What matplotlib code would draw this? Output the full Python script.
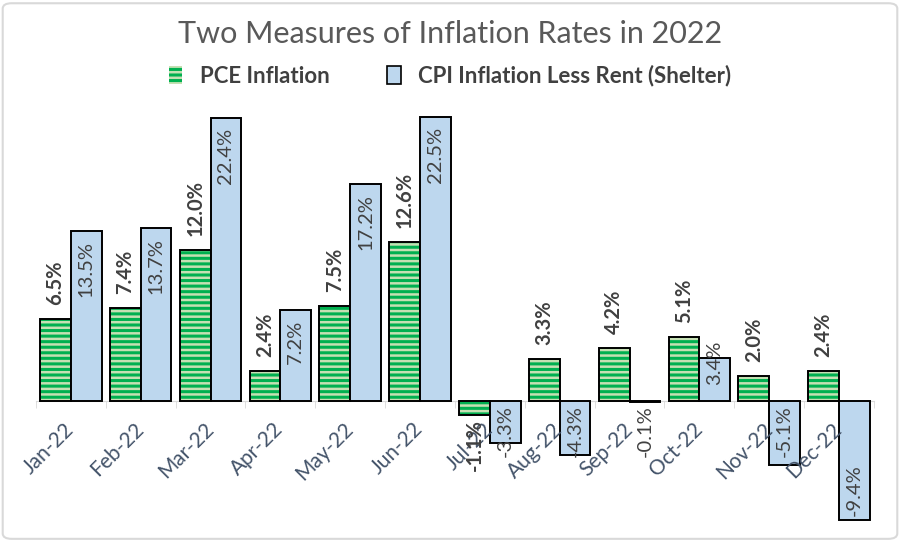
import numpy as np
import matplotlib.pyplot as plt
from matplotlib.patches import FancyBboxPatch, Patch

months = ['Jan-22', 'Feb-22', 'Mar-22', 'Apr-22', 'May-22', 'Jun-22',
          'Jul-22', 'Aug-22', 'Sep-22', 'Oct-22', 'Nov-22', 'Dec-22']
pce = [6.5, 7.4, 12.0, 2.4, 7.5, 12.6, -1.1, 3.3, 4.2, 5.1, 2.0, 2.4]
cpi = [13.5, 13.7, 22.4, 7.2, 17.2, 22.5, -3.3, -4.3, -0.1, 3.4, -5.1, -9.4]

plt.rcParams['font.family'] = ['Lato', 'DejaVu Sans']
plt.rcParams['hatch.linewidth'] = 2.2

green = '#00B050'
light_green = '#C5E0B3'
blue = '#BDD7EE'
text_col = '#404040'

fig = plt.figure(figsize=(9, 5.41), dpi=100)
ax = fig.add_axes([0.04, 0.0255, 0.931, 0.7932])

x = np.arange(len(months))
w = 0.44

# striped PCE bars: fill + green hatch, then black outline on top
ax.bar(x - w / 2, pce, w, color=light_green, edgecolor=green, hatch='---', linewidth=0)
ax.bar(x - w / 2, pce, w, fill=False, edgecolor='black', linewidth=1.4)
ax.bar(x + w / 2, cpi, w, color=blue, edgecolor='black', linewidth=1.4)

# data labels
fs = 14.5
for i, v in enumerate(pce):
    if v >= 0:
        ax.text(i - w / 2, v + 1.1, f'{v:.1f}%', rotation=90, ha='center', va='bottom',
                fontsize=fs, fontweight='bold', color=text_col)
    else:
        ax.text(i - w / 2, v - 0.3, f'{v:.1f}%', rotation=90, ha='center', va='top',
                fontsize=fs, fontweight='bold', color=text_col)

for i, v in enumerate(cpi):
    if v >= 0:
        if v - 4.6 < 1.0:
            # too short for an inside label: sit it just above the axis
            ax.text(i + w / 2, 1.3, f'{v:.1f}%', rotation=90, ha='center', va='bottom',
                    fontsize=fs, color=text_col)
        else:
            ax.text(i + w / 2, v - 0.8, f'{v:.1f}%', rotation=90, ha='center', va='top',
                    fontsize=fs, color=text_col)
    elif v + 4.8 > -0.3:
        ax.text(i + w / 2, -0.3, f'{v:.1f}%', rotation=90, ha='center', va='top',
                fontsize=fs, color=text_col)
    else:
        ax.text(i + w / 2, v + 0.3, f'{v:.1f}%', rotation=90, ha='center', va='bottom',
                fontsize=fs, color=text_col)

ax.set_xlim(-0.5, len(months) - 0.5)
ax.set_ylim(-10, 24)

for s in ['top', 'right', 'left']:
    ax.spines[s].set_visible(False)
ax.spines['bottom'].set_position(('data', 0))
ax.spines['bottom'].set_color('#D9D9D9')
ax.spines['bottom'].set_zorder(0)
ax.set_yticks([])

ax.set_xticks(x)
ax.set_xticklabels(months, rotation=45, ha='right', va='center', rotation_mode='anchor',
                   fontsize=15, color='#44546A')
ax.tick_params(axis='x', which='major', length=0, pad=18)
ax.set_xticks(np.arange(-0.5, len(months)), minor=True)
ax.tick_params(axis='x', which='minor', length=5, color='#D9D9D9', direction='out')

fig.text(0.5, 0.937, 'Two Measures of Inflation Rates in 2022', ha='center', va='center',
         fontsize=22, color='#595959')

handles = [Patch(facecolor=light_green, edgecolor=green, hatch='---', linewidth=0),
           Patch(facecolor=blue, edgecolor='black', linewidth=1.2)]
leg = fig.legend(handles, ['PCE Inflation', 'CPI Inflation Less Rent (Shelter)'],
                 loc='center', bbox_to_anchor=(0.5, 0.86), ncol=2, frameon=False,
                 prop={'size': 16, 'weight': 'bold'}, handlelength=0.6, handleheight=0.9,
                 columnspacing=2.6, handletextpad=0.8)
for t in leg.get_texts():
    t.set_color(text_col)

fig.patches.append(FancyBboxPatch((0.003, 0.004), 0.994, 0.99, boxstyle='round,pad=0,rounding_size=0.01',
                                  transform=fig.transFigure, fill=False, edgecolor='#D9D9D9',
                                  linewidth=1.5))

fig.savefig('out.png', dpi=100)
